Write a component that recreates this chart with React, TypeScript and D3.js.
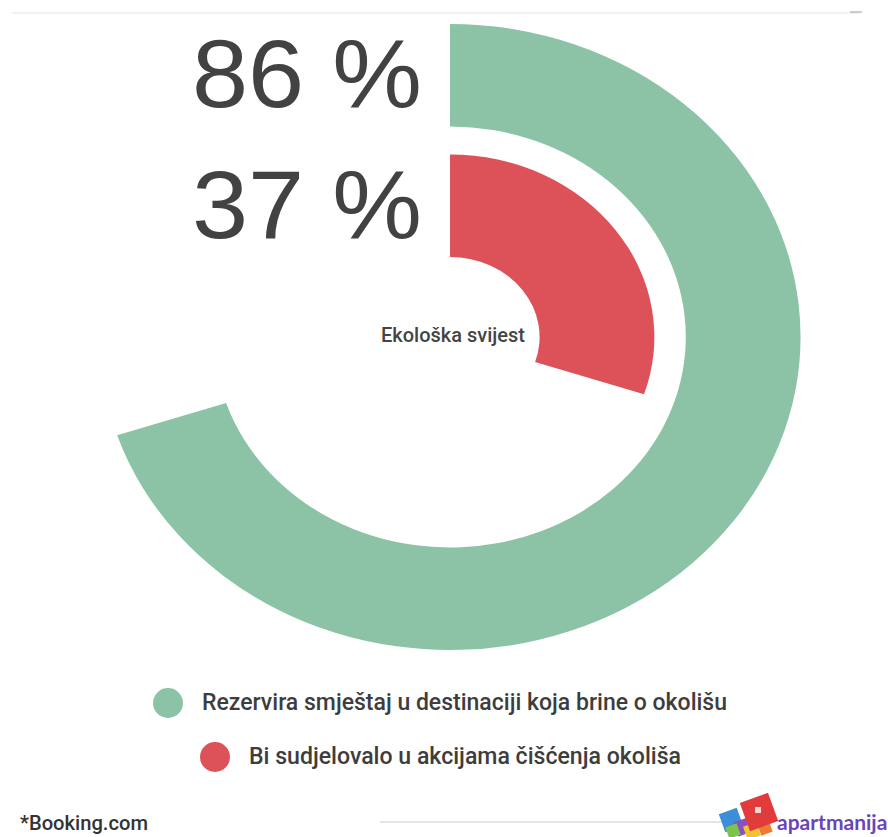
import { useEffect, useRef } from "react";
import * as d3 from "d3";

const W = 888;
const H = 837;

// inner ring first, outer ring last
const CATEGORIES = ["Bi sudjelovalo u akcijama čišćenja okoliša", "Rezervira smještaj u destinaciji koja brine o okolišu"];
const VALUES = [37, 86];
const LABELS = ["37 %", "86 %"];
const COLORS = ["#dc5258", "#8cc3a6"];
const LEGEND_ORDER = [1, 0];
const AXIS_MAX = 123; // full circle of the value axis
const CENTER_LABEL = "Ekološka svijest";
const SOURCE = "*Booking.com";

const CX = 450;
const CY = 337;
const SX = 1.12; // picture is a little wider than tall

export default function App() {
    const svgRef = useRef<SVGSVGElement>(null);

    useEffect(() => {
        const svg = d3.select(svgRef.current);
        svg.selectAll("*").remove();
        svg.append("rect").attr("width", W).attr("height", H).attr("fill", "#fff");

        // faint frame line at the top
        svg.append("line").attr("x1", 12).attr("x2", 858).attr("y1", 13).attr("y2", 13).attr("stroke", "#eee").attr("stroke-width", 1.5);
        svg.append("line").attr("x1", 850).attr("x2", 862).attr("y1", 12).attr("y2", 12).attr("stroke", "#bbb").attr("stroke-width", 1.5);

        const angle = d3.scaleLinear().domain([0, AXIS_MAX]).range([0, 2 * Math.PI]);
        const radius = d3.scaleBand<number>().domain(d3.range(CATEGORIES.length)).range([80, 313]).paddingInner(0.215).paddingOuter(0);

        const g = svg.append("g").attr("transform", `translate(${CX},${CY}) scale(${SX},1)`);
        const arc = d3
            .arc<number>()
            .innerRadius((i) => radius(i)!)
            .outerRadius((i) => radius(i)! + radius.bandwidth())
            .startAngle(0)
            .endAngle((i) => angle(VALUES[i]));

        g.selectAll("path")
            .data(d3.range(CATEGORIES.length))
            .join("path")
            .attr("d", arc)
            .attr("fill", (i) => COLORS[i]);

        // big value labels, right aligned just left of the start line
        svg.append("g")
            .selectAll("text")
            .data(d3.range(CATEGORIES.length))
            .join("text")
            .attr("x", CX - 28)
            .attr("y", (i) => CY - (radius(i)! + radius.bandwidth() * 0.53) + 35)
            .attr("text-anchor", "end")
            .attr("font-family", "Liberation Sans, Arial, sans-serif")
            .attr("font-size", 97)
            .attr("fill", "#424242")
            .attr("textLength", 230)
            .attr("lengthAdjust", "spacingAndGlyphs")
            .text((i) => LABELS[i]);

        svg.append("text")
            .attr("x", CX + 3)
            .attr("y", CY + 5)
            .attr("text-anchor", "middle")
            .attr("font-family", "Roboto, sans-serif")
            .attr("font-weight", 500)
            .attr("font-size", 20)
            .attr("fill", "#444")
            .attr("textLength", 144)
            .attr("lengthAdjust", "spacingAndGlyphs")
            .text(CENTER_LABEL);

        // legend
        const legendX = [168, 215];
        const legendY = [703, 757];
        const legendW = [525, 432];
        const lg = svg.append("g").selectAll("g").data(LEGEND_ORDER).join("g");
        lg.append("circle")
            .attr("cx", (_, k) => legendX[k])
            .attr("cy", (_, k) => legendY[k])
            .attr("r", 15)
            .attr("fill", (i) => COLORS[i]);
        lg.append("text")
            .attr("x", (_, k) => legendX[k] + 34)
            .attr("y", (_, k) => legendY[k] + 7)
            .attr("font-family", "Roboto, sans-serif")
            .attr("font-weight", 500)
            .attr("font-size", 23)
            .attr("fill", "#3d3d3d")
            .attr("textLength", (_, k) => legendW[k])
            .attr("lengthAdjust", "spacingAndGlyphs")
            .text((i) => CATEGORIES[i]);

        // footer
        svg.append("text")
            .attr("x", 20)
            .attr("y", 830)
            .attr("font-family", "Roboto, sans-serif")
            .attr("font-weight", 500)
            .attr("font-size", 21)
            .attr("fill", "#333")
            .attr("textLength", 128)
            .attr("lengthAdjust", "spacingAndGlyphs")
            .text(SOURCE);
        svg.append("line").attr("x1", 380).attr("x2", 728).attr("y1", 822).attr("y2", 822).attr("stroke", "#ddd").attr("stroke-width", 1.5);

        // logo: a few tilted tiles and the wordmark
        const logo = svg.append("g");
        const tiles: [number, number, number, string][] = [
            [731, 820, 19, "#3a8fd8"],
            [743, 827, 15, "#8a4fc0"],
            [752, 831, 14, "#f2c230"],
            [733, 831, 12, "#7cc44a"],
            [765, 828, 12, "#f07a30"],
            [759, 812, 30, "#e23b3b"],
        ];
        logo.selectAll("rect")
            .data(tiles)
            .join("rect")
            .attr("x", (d) => -d[2] / 2)
            .attr("y", (d) => -d[2] / 2)
            .attr("width", (d) => d[2])
            .attr("height", (d) => d[2])
            .attr("fill", (d) => d[3])
            .attr("transform", (d) => `translate(${d[0]},${d[1]}) rotate(-20)`);
        logo.append("rect").attr("x", 755).attr("y", 807).attr("width", 6).attr("height", 6).attr("fill", "#fff").attr("opacity", 0.8);
        logo.append("text")
            .attr("x", 777)
            .attr("y", 830)
            .attr("font-family", "Lato, sans-serif")
            .attr("font-weight", 700)
            .attr("font-size", 21)
            .attr("fill", "#6a45b8")
            .text("apartmanija");
    }, []);

    return (
        <div style={{ position: "absolute", left: 0, top: 0 }}>
            <svg ref={svgRef} width={W} height={H} style={{ display: "block" }} />
        </div>
    );
}
